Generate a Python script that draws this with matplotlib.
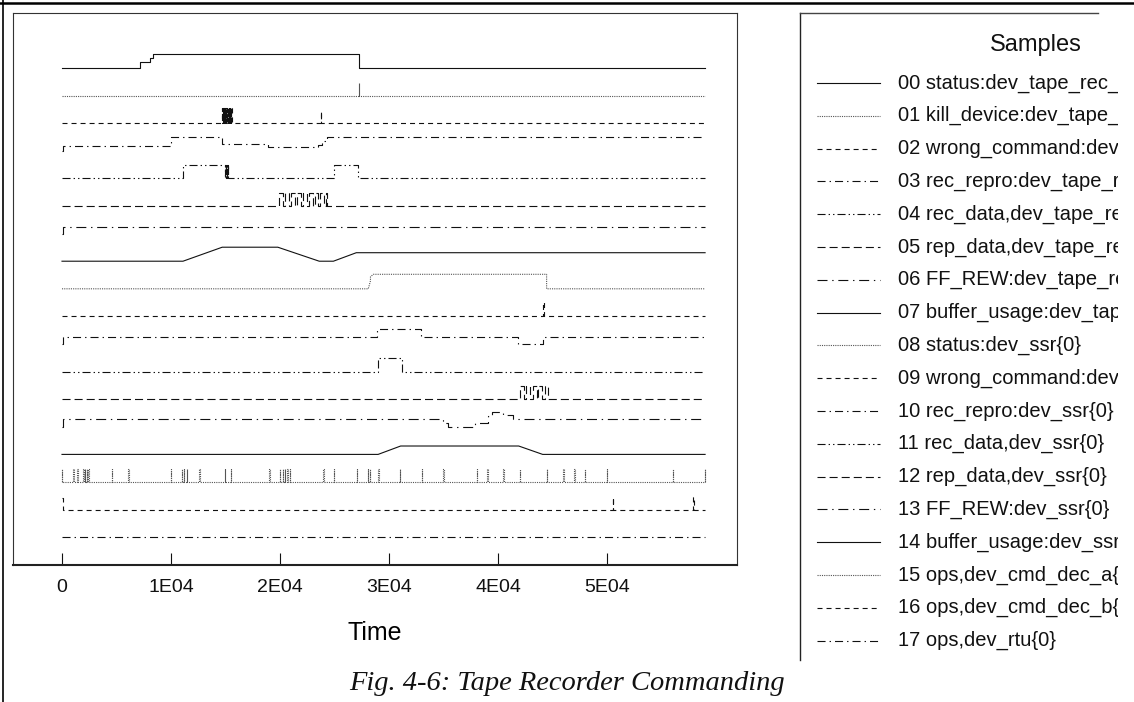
import matplotlib
matplotlib.use("Agg")
import matplotlib.pyplot as plt
from matplotlib.lines import Line2D

plt.rcParams['font.family'] = ['Liberation Sans', 'DejaVu Sans']
plt.rcParams['lines.scale_dashes'] = False

W, H, DPI = 1134, 702, 100

# ---------------- data ----------------
labels = [
    "00 status:dev_tape_rec_{0}", "01 kill_device:dev_tape_rec_{0}",
    "02 wrong_command:dev_tape_rec_{0}", "03 rec_repro:dev_tape_rec_{0}",
    "04 rec_data,dev_tape_rec_{0}", "05 rep_data,dev_tape_rec_{0}",
    "06 FF_REW:dev_tape_rec_{0}", "07 buffer_usage:dev_tape_rec_{0}",
    "08 status:dev_ssr{0}", "09 wrong_command:dev_ssr{0}",
    "10 rec_repro:dev_ssr{0}", "11 rec_data,dev_ssr{0}",
    "12 rep_data,dev_ssr{0}", "13 FF_REW:dev_ssr{0}",
    "14 buffer_usage:dev_ssr{0}", "15 ops,dev_cmd_dec_a{0}",
    "16 ops,dev_cmd_dec_b{0}", "17 ops,dev_rtu{0}",
]
T_END = 59000
tick_values = [0, 10000, 20000, 30000, 40000, 50000]
tick_labels = ["0", "1E04", "2E04", "3E04", "4E04", "5E04"]

# 00 status (tape recorder)
t00 = [0, 7160, 7160, 8070, 8070, 8380, 8380, 27250, 27250, T_END]
v00 = [0, 0, 5.6, 5.6, 10, 10, 14, 14, 0, 0]
# 01 kill_device
t01 = [0, 27250, 27250, 27290, 27290, T_END]
v01 = [0, 0, 12.7, 12.7, 0, 0]
# 02 wrong_command: pulse starts / ends (dense toggling block + one spike)
p02_start = [14680, 14740, 14800, 14860, 14920, 14980, 15040, 15100, 15160,
             15220, 15280, 15340, 15400, 15460, 15520, 23720]
p02_end = [14710, 14770, 14830, 14890, 14950, 15010, 15070, 15130, 15190,
           15250, 15310, 15370, 15430, 15490, 15600, 23800]
p02_level = [15] * 15 + [12]
# 03 rec_repro
t03 = [0, 80, 80, 10000, 10000, 14650, 14650, 18930, 18930, 23490, 23490,
       23850, 23850, 24280, 24280, T_END]
v03 = [0, 0, 4.8, 4.8, 13.5, 13.5, 6.5, 6.5, 3.5, 3.5, 5.5, 5.5, 10, 10, 13.5, 13.5]
# 04 rec_data
t04 = [0, 11100, 11100, 14950, 14950, 14990, 14990, 15020, 15020, 15050,
       15050, 15080, 15080, 15110, 15110, 15140, 15140, 15170, 15170, 15200,
       15200, 15230, 15230, 15260, 15260, 24950, 24950, 27160, 27160, T_END]
v04 = [0, 0, 13.4, 13.4, 0, 0, 13.4, 13.4, 0, 0, 13.4, 13.4, 0, 0, 13.4,
       13.4, 0, 0, 13.4, 13.4, 0, 0, 13.4, 13.4, 0, 0, 13.4, 13.4, 0, 0]
# 05 rep_data: burst of pulses
p05_start = [19900, 20500, 21000, 21600, 22100, 22700, 23200, 23700, 24200]
p05_end = [20300, 20800, 21350, 21900, 22500, 23000, 23500, 24000, 24350]
# 06 FF_REW
t06 = [0, 80, 80, T_END]
v06 = [0, 0, 7, 7]
# 07 buffer_usage (tape recorder)
t07 = [0, 11100, 14700, 19800, 23600, 24900, 27000, T_END]
v07 = [0, 0, 14, 14, 0, 0, 8.5, 8.5]
# 08 status (ssr)
t08 = [0, 28100, 28300, 28300, 28560, 44460, 44460, T_END]
v08 = [0, 0, 8, 12, 14.5, 14.5, 0, 0]
# 09 wrong_command (ssr)
t09 = [0, 44150, 44150, 44220, 44220, T_END]
v09 = [0, 0, 14.5, 14.5, 0, 0]
# 10 rec_repro (ssr)
t10 = [0, 80, 80, 28900, 28900, 32950, 32950, 41860, 41860, 44150, 44150, T_END]
v10 = [0, 0, 7, 7, 14.7, 14.7, 7, 7, 0.3, 0.3, 7, 7]
# 11 rec_data (ssr)
t11 = [0, 29000, 29000, 31150, 31150, T_END]
v11 = [0, 0, 14, 14, 0, 0]
# 12 rep_data (ssr): burst of pulses
p12_start = [42000, 42600, 43200, 43700, 44300]
p12_end = [42350, 42950, 43550, 44050, 44600]
# 13 FF_REW (ssr)
t13 = [0, 80, 80, 34980, 34980, 35440, 35440, 37900, 37900, 39100, 39100,
       39420, 39420, 40490, 40490, 41400, 41400, T_END]
v13 = [0, 0, 7.5, 7.5, 3.5, 3.5, 0, 0, 3.5, 3.5, 10.5, 10.5, 15, 15,
       11.5, 11.5, 7.5, 7.5]
# 14 buffer_usage (ssr)
t14 = [0, 29000, 31070, 41900, 44100, T_END]
v14 = [0, 0, 8.4, 8.4, 0, 0]
# 15 ops, cmd_dec_a: command ticks
ticks15 = [0, 1040, 1400, 1950, 2110, 2260, 2420, 4560, 6090, 9970, 10980,
           11190, 11440, 12600, 14950, 15480, 19020, 20000, 20250, 20460,
           20670, 20920, 23970, 24950, 27030, 28040, 28260, 29020, 31000,
           33000, 34980, 38040, 39020, 40490, 42020, 44470, 45990, 47000,
           47980, 49970, 56030, 58990]
# 16 ops, cmd_dec_b
t16 = [0, 60, 60, 50520, 50520, 50570, 50570, 57900, 57900, 57980, 57980, T_END]
v16 = [11.5, 11.5, 0, 0, 12.5, 12.5, 0, 0, 12.5, 12.5, 0, 0]
# 17 ops, rtu
t17 = [0, T_END]
v17 = [0, 0]


def pulses(starts, ends, levels, t_end):
    if not isinstance(levels, (list, tuple)):
        levels = [levels] * len(starts)
    t, v = [0], [0]
    for s, e, lv in zip(starts, ends, levels):
        t += [s, s, e, e]
        v += [0, lv, lv, 0]
    t.append(t_end)
    v.append(0)
    return t, v


t02, v02 = pulses(p02_start, p02_end, p02_level, T_END)
t05, v05 = pulses(p05_start, p05_end, 13, T_END)
t12, v12 = pulses(p12_start, p12_end, 13, T_END)
t15, v15 = pulses(ticks15, [x + 30 for x in ticks15], 12.7, T_END)

series = [(t00, v00), (t01, v01), (t02, v02), (t03, v03), (t04, v04),
          (t05, v05), (t06, v06), (t07, v07), (t08, v08), (t09, v09),
          (t10, v10), (t11, v11), (t12, v12), (t13, v13), (t14, v14),
          (t15, v15), (t16, v16), (t17, v17)]

# ---------------- styles ----------------
styles = [
    dict(ls='-', color='#111111'),
    dict(ls=(0, (0.8, 0.8)), color='#555555'),
    dict(ls=(0, (3.6, 2.9)), color='#111111'),
    dict(ls=(0, (5.8, 2.9, 1.0, 2.9)), color='#111111'),
    dict(ls=(0, (5.8, 2.2, 1.0, 2.2, 1.0, 2.2)), color='#111111'),
    dict(ls=(0, (5.8, 2.9)), color='#111111'),
    dict(ls=(0, (7.2, 3.4, 1.0, 3.4)), color='#111111'),
]

LEVEL_SCALE = 1 / 27.6   # signal level -> trace spacing units
n = len(series)

fig = plt.figure(figsize=(W / DPI, H / DPI), dpi=DPI)

# outer document frame
fig.add_artist(Line2D([0, 1], [1 - 3 / H, 1 - 3 / H], color='black', lw=1.8))
fig.add_artist(Line2D([3 / W, 3 / W], [0, 1], color='black', lw=1.2))

ax = fig.add_axes([13 / W, 1 - 565 / H, 724 / W, 552 / H])
for i, (t, v) in enumerate(series):
    st = styles[i % 7]
    y = [(n - 1 - i) + lv * LEVEL_SCALE for lv in v]
    ax.plot(t, y, lw=0.8, **st)

ax.set_xlim(-4495, 61927)
ax.set_ylim(-1.007, 18.993)
ax.set_yticks([])
ax.set_xticks(tick_values)
ax.set_xticklabels(tick_labels)
ax.tick_params(axis='x', direction='in', length=8.6, width=0.8, pad=10,
               labelsize=14, colors='#111111')
for s in ['top', 'left', 'right']:
    ax.spines[s].set_linewidth(0.8)
    ax.spines[s].set_color('#333333')
ax.spines['bottom'].set_linewidth(1.5)
ax.spines['bottom'].set_color('#222222')
ax.set_xlabel("Time", fontsize=18)
ax.xaxis.set_label_coords(0.5, -0.123)
ax.xaxis.label.set_va('center')

# ---------------- legend ----------------
LX0, LX1 = 800, 1118
lg = fig.add_axes([LX0 / W, 0, (LX1 - LX0) / W, 1])
lg.set_xlim(LX0, LX1)
lg.set_ylim(H, 0)
lg.axis('off')
lg.add_line(Line2D([800, 800], [13, 660], color='#222222', lw=1.0, clip_on=False))
lg.add_line(Line2D([800, 1098], [13, 13], color='#444444', lw=1.0, clip_on=False))
lg.text(1036, 45, "Samples", fontsize=17, ha='center', va='center',
        color='#111111', clip_on=True)
row0, drow = 83, 32.8
for i, lab in enumerate(labels):
    yy = row0 + i * drow
    st = styles[i % 7]
    lg.add_line(Line2D([817, 880], [yy, yy], lw=0.8, **st))
    lg.text(898, yy, lab, fontsize=14.5, ha='left', va='center',
            color='#111111', clip_on=True)

fig.text(567 / W, 1 - 683 / H, "Fig. 4-6: Tape Recorder Commanding",
         family=['Liberation Serif', 'DejaVu Serif'], style='italic',
         fontsize=20.5, ha='center', va='center', color='#111111')

fig.savefig("out.png", dpi=DPI)
